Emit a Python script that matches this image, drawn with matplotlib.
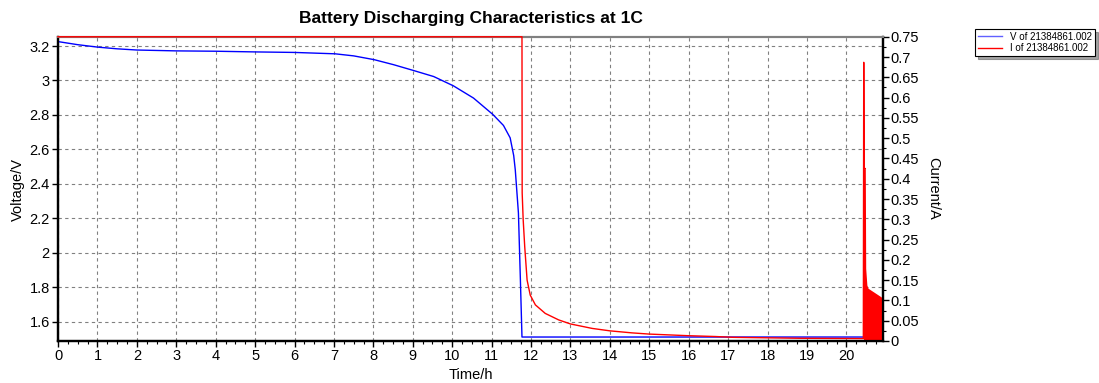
import matplotlib
matplotlib.use('Agg')
import matplotlib.pyplot as plt
from matplotlib.ticker import MultipleLocator, FormatStrFormatter

plt.rcParams['font.family'] = ['Liberation Sans', 'DejaVu Sans']

# voltage curve (h, V)
v_time = [0, 0.5, 1, 1.5, 2, 3, 4, 5, 6, 7.03, 7.5, 8.02, 8.51, 9.02, 9.53,
          10.03, 10.54, 11.03, 11.30, 11.47, 11.56, 11.6, 11.68, 11.73, 11.77, 20.42]
v_volt = [3.226, 3.208, 3.194, 3.184, 3.177, 3.172, 3.170, 3.166, 3.163, 3.155,
          3.143, 3.121, 3.092, 3.058, 3.023, 2.969, 2.898, 2.803, 2.739, 2.667,
          2.564, 2.481, 2.230, 1.84, 1.51, 1.51]

# current curve (h, A)
i_time = [0, 11.77, 11.775, 11.80, 11.84, 11.90, 11.98, 12.11, 12.36, 12.70,
          13.0, 13.55, 14.0, 14.56, 15.0, 16.0, 16.68, 17.13, 18.8, 20.42,
          20.43, 20.44, 20.45, 20.48]
i_amp = [0.75, 0.75, 0.365, 0.30, 0.232, 0.150, 0.113, 0.089, 0.068, 0.052,
         0.042, 0.031, 0.025, 0.020, 0.017, 0.013, 0.011, 0.009, 0.0067, 0.006,
         0.006, 0.687, 0.425, 0.425]

# pulsed tail after the spike, drawn as filled envelope
tail_time = [20.43, 20.48, 20.49, 20.52, 20.55, 20.94]
tail_amp = [0.425, 0.425, 0.179, 0.138, 0.130, 0.105]

x_ticks = list(range(0, 21))
v_ticks = [1.6, 1.8, 2.0, 2.2, 2.4, 2.6, 2.8, 3.0, 3.2]

fig = plt.figure(figsize=(10.99, 3.83), dpi=100)
ax = fig.add_axes([0.0528, 0.1097, 0.7507, 0.7943])
ax2 = ax.twinx()

ax.plot(v_time, v_volt, color='#0000ff', lw=1.0, zorder=3, label='V of 21384861.002')
ax2.plot(i_time, i_amp, color='#ff0000', lw=1.0, label='I of 21384861.002',
         clip_on=False, zorder=3)
ax2.fill_between(tail_time, 0, tail_amp, color='#ff0000', lw=0)

ax.set_xlim(0, 20.93)
ax.set_ylim(1.487, 3.254)
ax2.set_ylim(0, 0.75)

ax.set_xticks(x_ticks)
ax.xaxis.set_minor_locator(MultipleLocator(0.25))
ax.set_yticks(v_ticks)
ax.yaxis.set_major_formatter(FormatStrFormatter('%g'))
ax2.yaxis.set_major_locator(MultipleLocator(0.05))
ax2.yaxis.set_minor_locator(MultipleLocator(0.025))
ax2.yaxis.set_major_formatter(FormatStrFormatter('%g'))

ax.grid(True, which='major', color='#808080', linestyle=(0, (3, 3)), lw=0.8)
ax.set_axisbelow(True)

ax.tick_params(axis='both', which='major', labelsize=10.5, length=4, width=1, direction='out', pad=2)
ax.tick_params(axis='x', which='minor', length=2.5, width=0.8, direction='out')
ax2.tick_params(axis='y', which='major', labelsize=10.5, length=4, width=1, direction='out', pad=1)
ax2.tick_params(axis='y', which='minor', length=2.5, width=0.8, direction='out')

for a in (ax, ax2):
    for side in ('left', 'bottom', 'right'):
        a.spines[side].set_linewidth(1.6)
        a.spines[side].set_color('black')
    a.spines['top'].set_color('#808080')
    a.spines['top'].set_linewidth(1.5)

fig.text(0.4282, 0.951, 'Battery Discharging Characteristics at 1C', ha='center', va='center',
         fontsize=12.5, fontweight='bold')
fig.text(18 / 1099, 0.505, 'Voltage/V', rotation=90, ha='center', va='center', fontsize=10.5)
fig.text(933 / 1099, 0.507, 'Current/A', rotation=270, ha='center', va='center', fontsize=10.5)
fig.text(471 / 1099, 1 - 375 / 383, 'Time/h', ha='center', va='center', fontsize=10.5)

h1, l1 = ax.get_legend_handles_labels()
h2, l2 = ax2.get_legend_handles_labels()
leg = fig.legend(h1 + h2, l1 + l2, loc='upper left', bbox_to_anchor=(0.887, 0.925),
                 fontsize=7, frameon=True, fancybox=False, shadow=True, edgecolor='black',
                 handlelength=2.5, handletextpad=0.8, borderpad=0.3, labelspacing=0.15,
                 borderaxespad=0)
leg.get_frame().set_linewidth(0.8)
leg.get_lines()[0].set_color('#6060ff')

fig.savefig('out.png', dpi=100)
